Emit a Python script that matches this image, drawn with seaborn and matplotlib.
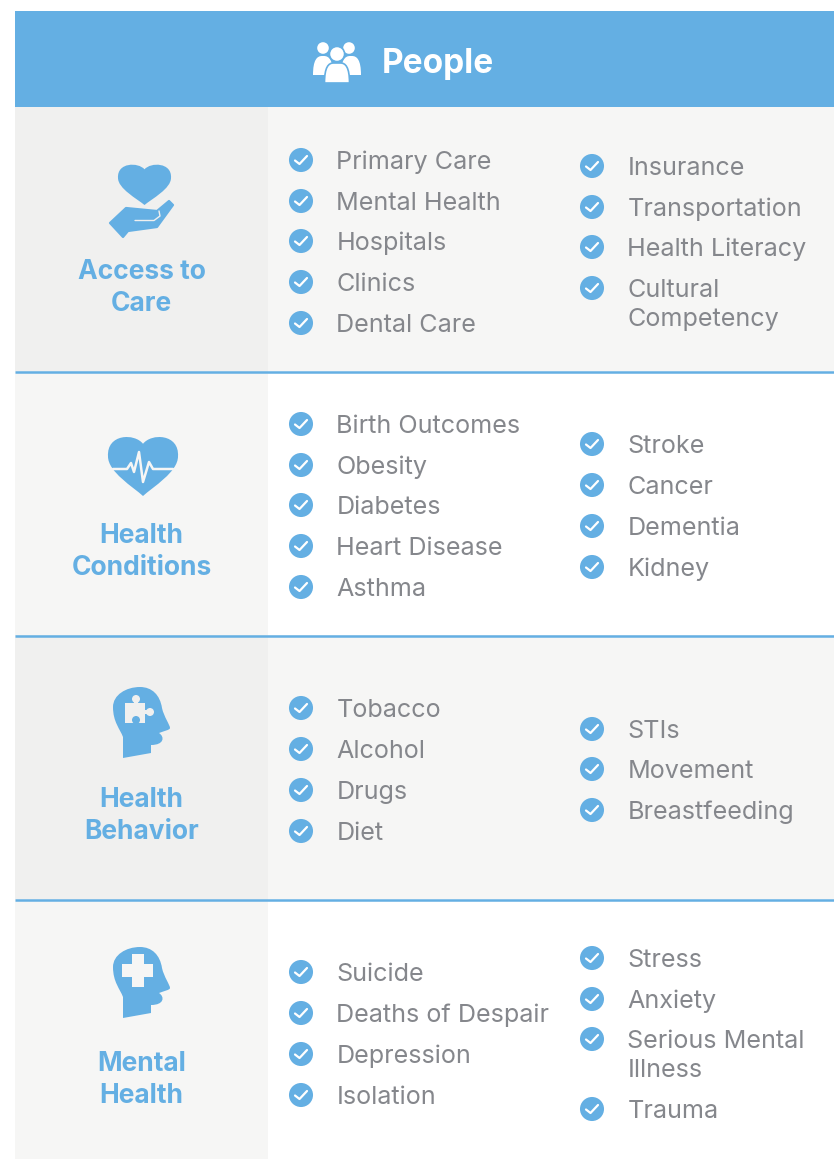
import pandas as pd
import matplotlib
matplotlib.use('Agg')
import matplotlib.pyplot as plt
import seaborn as sns
from matplotlib.patches import Rectangle, Circle, Polygon, PathPatch
from matplotlib.path import Path

BLUE = '#64afe3'
GREY = '#85878c'

header = 'People'
groups = [['Access to', 'Care'], ['Health', 'Conditions'], ['Health', 'Behavior'], ['Mental', 'Health']]

col_left = [
    ['Primary Care', 'Mental Health', 'Hospitals', 'Clinics', 'Dental Care'],
    ['Birth Outcomes', 'Obesity', 'Diabetes', 'Heart Disease', 'Asthma'],
    ['Tobacco', 'Alcohol', 'Drugs', 'Diet'],
    ['Suicide', 'Deaths of Despair', 'Depression', 'Isolation'],
]
col_left_y = [
    [160, 201, 241, 282, 323],
    [424, 465, 505, 546, 587],
    [708, 749, 790, 831],
    [972, 1013, 1054, 1095],
]
col_right = [
    ['Insurance', 'Transportation', 'Health Literacy', 'Cultural\nCompetency'],
    ['Stroke', 'Cancer', 'Dementia', 'Kidney'],
    ['STIs', 'Movement', 'Breastfeeding'],
    ['Stress', 'Anxiety', 'Serious Mental\nIllness', 'Trauma'],
]
col_right_y = [
    [166, 207, 247, 288],
    [444, 485, 526, 567],
    [729, 769, 810],
    [958, 999, 1039, 1109],
]

rows = []
for i in range(4):
    for t, y in zip(col_left[i], col_left_y[i]):
        rows.append({'label': t, 'x': 301, 'y': y})
    for t, y in zip(col_right[i], col_right_y[i]):
        rows.append({'label': t, 'x': 592, 'y': y})
items = pd.DataFrame(rows)

sns.set_theme(style='white')
plt.rcParams['font.family'] = ['Inter', 'DejaVu Sans']

fig = plt.figure(figsize=(8.34, 11.59), dpi=100)
ax = fig.add_axes([0, 0, 1, 1])

# backgrounds
bands = [(107, 371, '#f0f0ef', '#f6f6f5'), (371, 635, '#f6f6f5', '#ffffff'),
         (635, 899, '#f0f0ef', '#f6f6f5'), (899, 1159, '#f6f6f5', '#ffffff')]
ax.add_patch(Rectangle((15, 11), 819, 96, color=BLUE, lw=0))
for top, bot, c1, c2 in bands:
    ax.add_patch(Rectangle((15, top), 253, bot - top, color=c1, lw=0))
    ax.add_patch(Rectangle((268, top), 566, bot - top, color=c2, lw=0))
for y in [372, 635.5, 899.5]:
    ax.plot([15, 834], [y, y], color=BLUE, lw=1.8, solid_capstyle='butt')

# check marks
sns.scatterplot(data=items, x='x', y='y', ax=ax, s=300, color=BLUE, edgecolor='none', legend=False, zorder=3)
for x, y in zip(items['x'], items['y']):
    ax.plot([x - 6, x - 1.5, x + 6], [y + 0.5, y + 4, y - 4], color='white', lw=1.6, zorder=4)

for i, row in items.iterrows():
    lx = row['x'] + 35.5
    ax.text(lx, row['y'] + 9, row['label'].split('\n')[0], fontsize=18.1, color=GREY, va='baseline', ha='left')
    if '\n' in row['label']:
        ax.text(lx, row['y'] + 38, row['label'].split('\n')[1], fontsize=18.1, color=GREY, va='baseline', ha='left')

# header
ax.text(382, 72.5, header, fontsize=24, color='white', fontweight='bold', va='baseline', ha='left')

# group names
name_y = [(279, 311), (543, 575), (807, 839), (1071, 1103)]
for g, (y1, y2) in zip(groups, name_y):
    ax.text(141.5, y1, g[0], fontsize=19, color=BLUE, fontweight='bold', va='baseline', ha='center')
    ax.text(141.5, y2, g[1], fontsize=19, color=BLUE, fontweight='bold', va='baseline', ha='center')

M, L, C, Z = Path.MOVETO, Path.LINETO, Path.CURVE4, Path.CLOSEPOLY


def heart(cx, top, w, h):
    l = cx - w / 2
    r = cx + w / 2
    b = top + h
    v = [(cx, top + h * 0.13),
         (cx + w * 0.12, top - h * 0.05), (r + w * 0.02, top - h * 0.04), (r, top + h * 0.34),
         (r, top + h * 0.6), (cx + w * 0.14, top + h * 0.85), (cx, b),
         (cx - w * 0.14, top + h * 0.85), (l, top + h * 0.6), (l, top + h * 0.34),
         (l - w * 0.02, top - h * 0.04), (cx - w * 0.12, top - h * 0.05), (cx, top + h * 0.13),
         (cx, top + h * 0.13)]
    c = [M] + [C] * 12 + [Z]
    ax.add_patch(PathPatch(Path(v, c), fc=BLUE, ec='none', zorder=3))


def body(x0, x1, top, bot, ec='none'):
    v = [(x0, bot), (x0, top + 4), (x0 + 4, top), (x0 + 9, top), (x1 - 9, top), (x1 - 4, top), (x1, top + 4), (x1, bot), (x0, bot)]
    c = [M, C, C, C, L, C, C, C, Z]
    ax.add_patch(PathPatch(Path(v, c), fc='white', ec=ec, lw=1.2, zorder=3 if ec == 'none' else 5))


# people icon
ax.add_patch(Circle((323, 48), 5.8, fc='white', ec='none', zorder=3))
ax.add_patch(Circle((349, 48), 5.8, fc='white', ec='none', zorder=3))
body(313, 333, 56, 75)
body(341, 361, 56, 75)
ax.add_patch(Circle((337, 54), 7.6, fc='white', ec=BLUE, lw=1.2, zorder=5))
body(324.5, 349.5, 63, 83, BLUE)

# access to care: heart and hand
heart(144.5, 164, 53, 41)
ax.add_patch(Polygon([(110, 223), (126, 208), (157, 211), (169, 201), (173, 205), (157, 227), (128, 231), (123, 237)],
                     closed=True, fc=BLUE, ec=BLUE, lw=1.6, joinstyle='round', zorder=3))
ax.plot([135, 154, 160, 159], [220.5, 220.5, 216, 211], color='#f0f0ef', lw=1, zorder=4)

# health conditions: heart with pulse
heart(143, 436, 70, 60)
ax.plot([113, 127, 131, 134, 139, 143, 149, 153, 173],
        [469, 469, 463, 472, 452, 482, 462, 469, 469], color='#f6f6f5', lw=1.8, zorder=4)


def head(cx, top):
    pts = [(cx - 17, top + 71), (cx - 17, top + 50),
           (cx - 20, top + 42), (cx - 27, top + 35), (cx - 27, top + 20),
           (cx - 27, top + 8), (cx - 14, top), (cx, top),
           (cx + 12, top), (cx + 20, top + 8), (cx + 22, top + 21),
           (cx + 24, top + 30), (cx + 30, top + 38), (cx + 30, top + 41),
           (cx + 30, top + 43), (cx + 24, top + 44), (cx + 19, top + 46),
           (cx + 25, top + 50), (cx + 24, top + 58), (cx + 11, top + 58),
           (cx + 11, top + 66), (cx - 17, top + 71)]
    codes = [M, L, C, C, C, C, C, C, C, C, C, C, C, C, C, C, C, C, C, C, L, Z]
    ax.add_patch(PathPatch(Path(pts, codes), fc=BLUE, ec='none', zorder=3))


# health behavior: head with puzzle piece
head(140, 687)
bg3 = '#f0f0ef'
ax.add_patch(Rectangle((125, 703), 20, 20, fc=bg3, ec='none', zorder=4))
ax.add_patch(Circle((136, 699), 4, fc=bg3, ec='none', zorder=4))
ax.add_patch(Rectangle((134, 700), 4, 4, fc=bg3, ec='none', zorder=4))
ax.add_patch(Circle((150, 712), 4, fc=bg3, ec='none', zorder=4))
ax.add_patch(Rectangle((144, 710), 4, 4, fc=bg3, ec='none', zorder=4))
ax.add_patch(Circle((136, 720), 4, fc=BLUE, ec='none', zorder=5))
ax.add_patch(Rectangle((134, 722), 4, 2, fc=BLUE, ec='none', zorder=5))

# mental health: head with cross
head(140, 947)
bg4 = '#f6f6f5'
ax.add_patch(Rectangle((122, 964), 31, 13, fc=bg4, ec='none', zorder=4))
ax.add_patch(Rectangle((132, 954), 12, 33, fc=bg4, ec='none', zorder=4))

ax.set_xlim(0, 834)
ax.set_ylim(1159, 0)
ax.axis('off')
fig.savefig('out.png', dpi=100, facecolor='white')
